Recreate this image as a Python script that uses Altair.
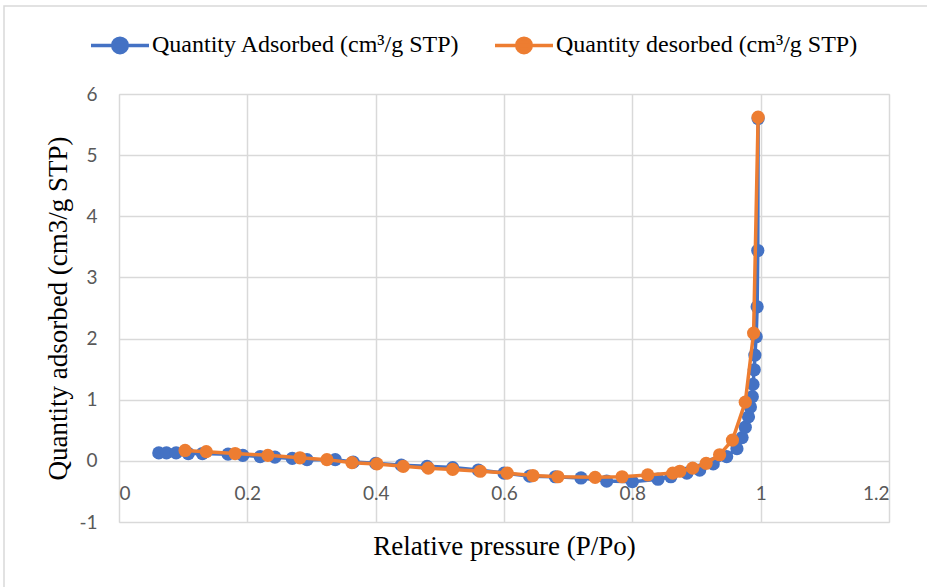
import altair as alt
import pandas as pd

# Adsorption branch (relative pressure, quantity)
ads_x = [0.062, 0.074, 0.089, 0.108, 0.13, 0.17, 0.193, 0.22, 0.243, 0.27, 0.293, 0.337,
         0.365, 0.40, 0.44, 0.48, 0.52, 0.56, 0.60, 0.64, 0.68, 0.72, 0.76, 0.80, 0.84,
         0.86, 0.885, 0.905, 0.926, 0.947, 0.963, 0.971, 0.976, 0.981, 0.984, 0.987,
         0.988, 0.990, 0.991, 0.993, 0.9945, 0.9955, 0.996]
ads_y = [0.13, 0.13, 0.13, 0.12, 0.12, 0.11, 0.09, 0.07, 0.06, 0.04, 0.02, 0.02,
         -0.02, -0.04, -0.07, -0.09, -0.11, -0.15, -0.20, -0.25, -0.26, -0.28, -0.33, -0.34, -0.30,
         -0.26, -0.20, -0.15, -0.05, 0.07, 0.20, 0.38, 0.55, 0.72, 0.88, 1.05,
         1.25, 1.49, 1.73, 2.03, 2.52, 3.44, 5.60]

# Desorption branch (in measurement order, high to low pressure)
des_x = [0.996, 0.989, 0.976, 0.956, 0.936, 0.915, 0.894, 0.874, 0.863, 0.824, 0.784,
         0.742, 0.684, 0.645, 0.605, 0.563, 0.52, 0.482, 0.443, 0.402, 0.363, 0.324,
         0.282, 0.232, 0.181, 0.136, 0.103]
des_y = [5.62, 2.09, 0.96, 0.34, 0.10, -0.04, -0.12, -0.17, -0.20, -0.23, -0.26,
         -0.27, -0.26, -0.24, -0.20, -0.17, -0.14, -0.12, -0.09, -0.05, -0.03, 0.02,
         0.05, 0.09, 0.12, 0.15, 0.17]

series_names = ["Quantity Adsorbed (cm³/g STP)", "Quantity desorbed (cm³/g STP)"]
series_colors = ["#4472C4", "#ED7D31"]
x_ticks = [0, 0.2, 0.4, 0.6, 0.8, 1, 1.2]
y_ticks = [-1, 0, 1, 2, 3, 4, 5, 6]

rows = []
for i, (x, y) in enumerate(zip(ads_x, ads_y)):
    rows.append({"series": series_names[0], "x": x, "y": y, "i": i})
for i, (x, y) in enumerate(zip(des_x, des_y)):
    rows.append({"series": series_names[1], "x": x, "y": y, "i": i})
df = pd.DataFrame(rows)

legend_path = ("M-1,0L1,0M-0.25,0A0.25,0.25,0,1,0,0.25,0"
               "A0.25,0.25,0,1,0,-0.25,0Z")

leg = alt.Legend(
    title=None, orient="none", direction="horizontal",
    legendX=-30, legendY=-80, padding=0,
    symbolType=legend_path, symbolSize=3364, symbolStrokeWidth=3.5, symbolOpacity=1,
    labelFont="Liberation Serif", labelFontSize=24, labelColor="#000000",
    labelLimit=500, labelOffset=1, columnPadding=28,
)
cscale = alt.Scale(domain=series_names, range=series_colors)
stroke = alt.Stroke("series:N", scale=cscale, legend=leg)
fill = alt.Fill("series:N", scale=cscale, legend=leg)

xenc = alt.X(
    "x:Q",
    scale=alt.Scale(domain=[0, 1.2], nice=False),
    axis=alt.Axis(
        values=x_ticks, format=".1~f", title="Relative pressure (P/Po)",
        offset=-61, domain=False, ticks=False, grid=True,
        gridColor="#d9d9d9", gridWidth=1.5,
        labelFont="Lato", labelFontSize=19, labelColor="#595959", labelPadding=23,
        titleFont="Liberation Serif", titleFontSize=27, titleFontWeight="normal",
        titleColor="#000000", titleY=85, titleBaseline="middle",
    ),
)
yenc = alt.Y(
    "y:Q",
    scale=alt.Scale(domain=[-1, 6], nice=False),
    axis=alt.Axis(
        values=y_ticks, labelExpr="toString(datum.value)",
        title="Quantity adsorbed (cm3/g STP)",
        domain=False, ticks=False, grid=True,
        gridColor="#d9d9d9", gridWidth=1.5,
        labelFont="Lato", labelFontSize=19, labelColor="#595959", labelPadding=22,
        titleFont="Liberation Serif", titleFontSize=27, titleFontWeight="normal",
        titleColor="#000000", titleX=-61, titleY=214, titleBaseline="middle",
    ),
)

base = alt.Chart(df)
layers = []
for name in series_names:
    sub = base.transform_filter(alt.datum.series == name)
    layers.append(sub.mark_line(strokeWidth=3.5).encode(x=xenc, y=yenc, stroke=stroke, order="i:Q"))
    layers.append(sub.mark_point(filled=True, size=175, opacity=1, strokeWidth=0).encode(
        x=xenc, y=yenc, fill=fill, stroke=stroke))

frame = alt.Chart(pd.DataFrame({"a": [0]})).mark_rect(
    fillOpacity=0, stroke="#d9d9d9", strokeWidth=1.5
).encode(x=alt.value(-115), x2=alt.value(900), y=alt.value(-88), y2=alt.value(600))

chart = alt.layer(frame, *layers).properties(
    width=770, height=428,
    autosize=alt.AutoSizeParams(type="none"),
    padding={"left": 119, "top": 94, "right": 38, "bottom": 65},
).configure_view(stroke=None).configure(background="white")

chart.save("out.html", embed_options={"renderer": "svg", "actions": False})
